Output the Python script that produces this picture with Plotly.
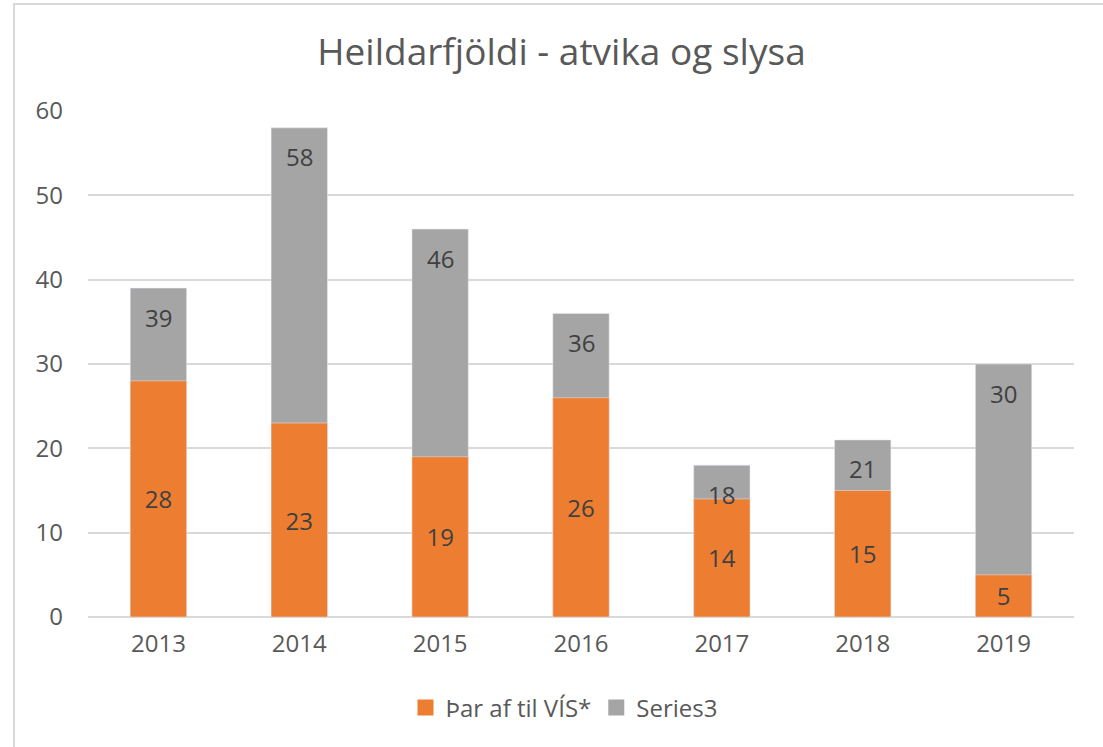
import plotly.graph_objects as go

years = ["2013", "2014", "2015", "2016", "2017", "2018", "2019"]
vis_values = [28, 23, 19, 26, 14, 15, 5]
total_values = [39, 58, 46, 36, 18, 21, 30]
y_ticks = [0, 10, 20, 30, 40, 50, 60]

ORANGE = "#ED7D31"
GRAY = "#A5A5A5"
TXT = "#595959"
LBL = "#404040"
FONT = "Open Sans"

fig = go.Figure()
fig.add_trace(go.Bar(
    x=years, y=total_values, name="Series3", showlegend=False,
    marker=dict(color=GRAY), hoverinfo="skip",
))
fig.add_trace(go.Bar(
    x=years, y=vis_values, name="Þar af til VÍS*", showlegend=False,
    marker=dict(color=ORANGE),
    text=[str(v) for v in vis_values], textposition="inside",
    insidetextanchor="middle",
    textfont=dict(family=FONT, size=24, color=LBL),
    constraintext="none", hoverinfo="skip",
))
# legend entries with larger square swatches
for nm, col in [("Þar af til VÍS*", ORANGE), ("Series3", GRAY)]:
    fig.add_trace(go.Scatter(x=[None], y=[None], mode="markers", name=nm,
                             marker=dict(symbol="square", size=16, color=col),
                             showlegend=True, hoverinfo="skip"))

for i, tot in enumerate(total_values):
    fig.add_annotation(x=i, y=tot, yshift=-29, text=str(tot), showarrow=False,
                       font=dict(family=FONT, size=24, color=LBL),
                       xref="x", yref="y")

W, H = 1103, 747
L, R, T, B = 88, 1074, 111, 617
pw, ph = R - L, B - T

# outer chart frame
fig.add_shape(type="rect", xref="paper", yref="paper",
              x0=(14 - L) / pw, x1=(1120 - L) / pw,
              y0=(B - 760) / ph, y1=(B - 4) / ph,
              line=dict(color="#D9D9D9", width=2), fillcolor="rgba(0,0,0,0)",
              layer="below")

fig.update_layout(
    width=W, height=H,
    margin=dict(l=L, r=W - R, t=T, b=H - B, pad=0, autoexpand=False),
    paper_bgcolor="white", plot_bgcolor="white",
    barmode="overlay", bargap=0.6,
    font=dict(family=FONT, color=TXT),
    title=dict(text="Heildarfjöldi - atvika og slysa",
               font=dict(family=FONT, size=37, color=TXT),
               x=561.5 / W, xanchor="center", xref="container",
               y=1 - 52 / H, yanchor="middle", yref="container"),
    showlegend=True,
    legend=dict(orientation="h", x=(564 - L) / pw, xanchor="center",
                y=(B - 708) / ph, yanchor="middle",
                font=dict(family=FONT, size=24, color=TXT),
                bgcolor="rgba(0,0,0,0)"),
    xaxis=dict(type="category", range=[-0.5, len(years) - 0.5],
               showgrid=False, showline=False, ticks="",
               tickfont=dict(family=FONT, size=24, color=TXT),
               ticklabelstandoff=10),
    yaxis=dict(range=[0, 60], tickvals=y_ticks, showgrid=True,
               gridcolor="#D9D9D9", gridwidth=2, zeroline=True,
               zerolinecolor="#D9D9D9", zerolinewidth=2, showline=False,
               ticks="", tickfont=dict(family=FONT, size=24, color=TXT),
               ticklabelstandoff=24),
)

fig.write_html("out.html", config={"displayModeBar": False},
               post_script="document.body.style.margin='0px';document.body.style.overflow='hidden';")
